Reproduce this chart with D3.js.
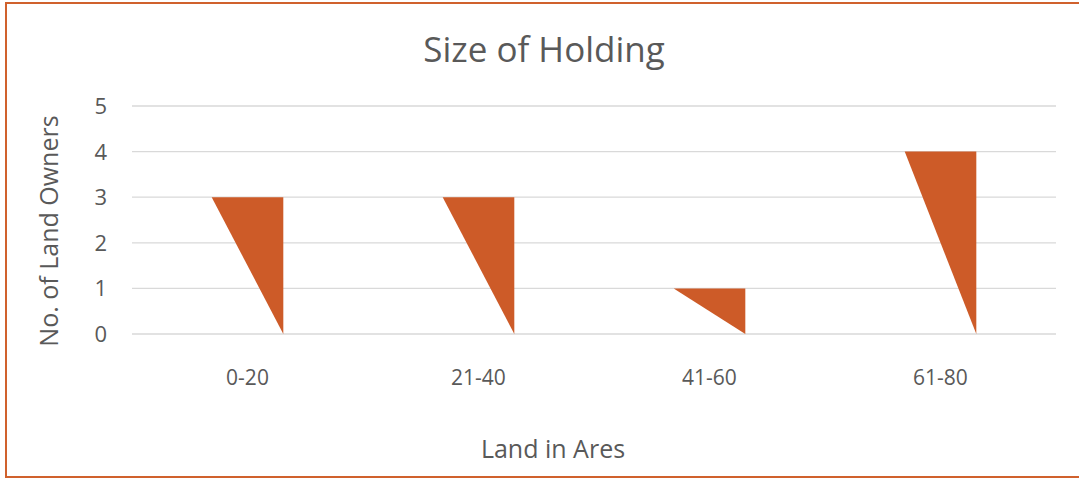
<!DOCTYPE html>
<html>
<head>
<meta charset="utf-8">
<script src="https://cdn.jsdelivr.net/npm/d3@7"></script>
<style>
  body { margin: 0; background: #fff; }
  text { font-family: "Open Sans", "Noto Sans", sans-serif; fill: #595959; }
</style>
</head>
<body>
<div id="chart"></div>
<script>
// data
var categories = ["0-20", "21-40", "41-60", "61-80"];
var owners = [3, 3, 1, 4];
var yTicks = [0, 1, 2, 3, 4, 5];

var width = 1079;
var height = 480;
var plot = {left: 132, right: 1056, top: 106, bottom: 334};

var svg = d3.select("#chart")
  .append("svg")
  .attr("width", width)
  .attr("height", height);

// chart border
svg.append("rect")
  .attr("x", 6)
  .attr("y", 3)
  .attr("width", width)
  .attr("height", 474)
  .style("fill", "none")
  .style("stroke", "#D0612D")
  .style("stroke-width", 2);

var x = d3.scaleBand()
  .domain(categories)
  .range([plot.left, plot.right])
  .paddingInner(0.69)
  .paddingOuter(0.345);

var y = d3.scaleLinear()
  .domain([0, 5])
  .range([plot.bottom, plot.top]);

// gridlines
svg.append("g")
  .selectAll("line")
  .data(yTicks)
  .enter()
  .append("line")
  .attr("x1", plot.left)
  .attr("x2", plot.right)
  .attr("y1", function(d){ return y(d); })
  .attr("y2", function(d){ return y(d); })
  .style("stroke", "#D9D9D9")
  .style("stroke-width", 1.3);

// y tick labels
svg.append("g")
  .selectAll("text")
  .data(yTicks)
  .enter()
  .append("text")
  .attr("x", 107)
  .attr("y", function(d){ return y(d); })
  .attr("dy", "0.36em")
  .style("text-anchor", "end")
  .style("font-size", "22px")
  .text(function(d){ return d; });

// x tick labels
svg.append("g")
  .selectAll("text")
  .data(categories)
  .enter()
  .append("text")
  .attr("x", function(d){ return x(d) + x.bandwidth() / 2; })
  .attr("y", 385)
  .style("text-anchor", "middle")
  .style("font-size", "21px")
  .text(function(d){ return d; });

// triangle bars
svg.append("g")
  .selectAll("path")
  .data(owners)
  .enter()
  .append("path")
  .attr("d", function(d, i){
    var x0 = x(categories[i]);
    var x1 = x0 + x.bandwidth();
    return "M" + x0 + "," + y(d) + "L" + x1 + "," + y(d) + "L" + x1 + "," + y(0) + "Z";
  })
  .style("fill", "#CD5B28");

// title
svg.append("text")
  .attr("x", 544)
  .attr("y", 62)
  .style("text-anchor", "middle")
  .style("font-size", "35px")
  .text("Size of Holding");

// axis titles
svg.append("text")
  .attr("transform", "translate(58,231) rotate(-90)")
  .style("text-anchor", "middle")
  .style("font-size", "25px")
  .text("No. of Land Owners");

svg.append("text")
  .attr("x", 553)
  .attr("y", 458)
  .style("text-anchor", "middle")
  .style("font-size", "25px")
  .text("Land in Ares");
</script>
</body>
</html>
